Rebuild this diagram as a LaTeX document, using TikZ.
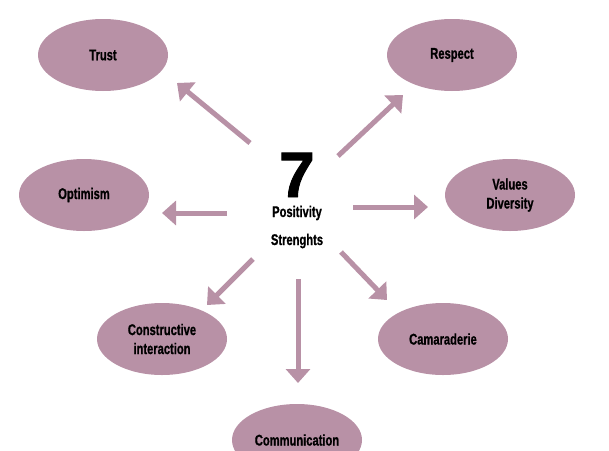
\documentclass[tikz,border=0pt]{standalone}
\usepackage{fontspec}
\setmainfont{Liberation Sans}[FakeStretch=0.72, FakeBold=0.8]
\newfontfamily\bignumfont{Liberation Sans}[FakeBold=1.5]
\usetikzlibrary{shapes,arrows.meta,positioning}
\definecolor{mauve}{RGB}{184,145,166}
\tikzset{strength/.style={ellipse, fill=mauve, minimum width=130pt, minimum height=72pt, inner sep=0pt, align=center, font=\bfseries\fontsize{15.5}{19}\selectfont}}
\tikzset{pointer/.style={draw=mauve, line width=5pt, -{Triangle[width=24pt,length=14pt]}}}
\tikzset{caption/.style={inner sep=0pt, font=\bfseries\fontsize{15.5}{17}\selectfont}}

\begin{document}
\begin{tikzpicture}[x=1pt,y=-1pt]
\path[use as bounding box, clip] (0,0) rectangle (609,450);
% centre
\node[inner sep=0pt, anchor=base, font=\bignumfont\bfseries\fontsize{64}{64}\selectfont] (seven) at (297,197) {7};
\node[caption, anchor=base] (positivity) at (297,217) {Positivity};
\node[caption, anchor=base] (strenghts) at (297,245) {Strenghts};
% the seven strengths
\node[strength] (trust) at (103,55) {Trust};
\node[strength] (respect) at (452,55) {Respect};
\node[strength] (optimism) at (84,195) {Optimism};
\node[strength] (values) at (510,195) {Values\\Diversity};
\node[strength] (constructive) at (162,339) {Constructive\\interaction};
\node[strength] (camaraderie) at (443,339) {Camaraderie};
\node[strength] (communication) at (297,440) {Communication};
% arrows
\coordinate (trust tail) at (250,143);
\coordinate (trust tip) at (177,83);
\coordinate (respect tail) at (338,156);
\coordinate (respect tip) at (403,95);
\coordinate (optimism tail) at (227,213);
\coordinate (optimism tip) at (162,213);
\coordinate (values tail) at (353,207);
\coordinate (values tip) at (428,207);
\coordinate (constructive tail) at (253,259);
\coordinate (constructive tip) at (207,305);
\coordinate (camaraderie tail) at (341,252);
\coordinate (camaraderie tip) at (387,300);
\coordinate (communication tail) at (298,279);
\coordinate (communication tip) at (298,383);
\draw[pointer] (trust tail) -- (trust tip);
\draw[pointer] (respect tail) -- (respect tip);
\draw[pointer] (optimism tail) -- (optimism tip);
\draw[pointer] (values tail) -- (values tip);
\draw[pointer] (constructive tail) -- (constructive tip);
\draw[pointer] (camaraderie tail) -- (camaraderie tip);
\draw[pointer] (communication tail) -- (communication tip);
\end{tikzpicture}
\end{document}
